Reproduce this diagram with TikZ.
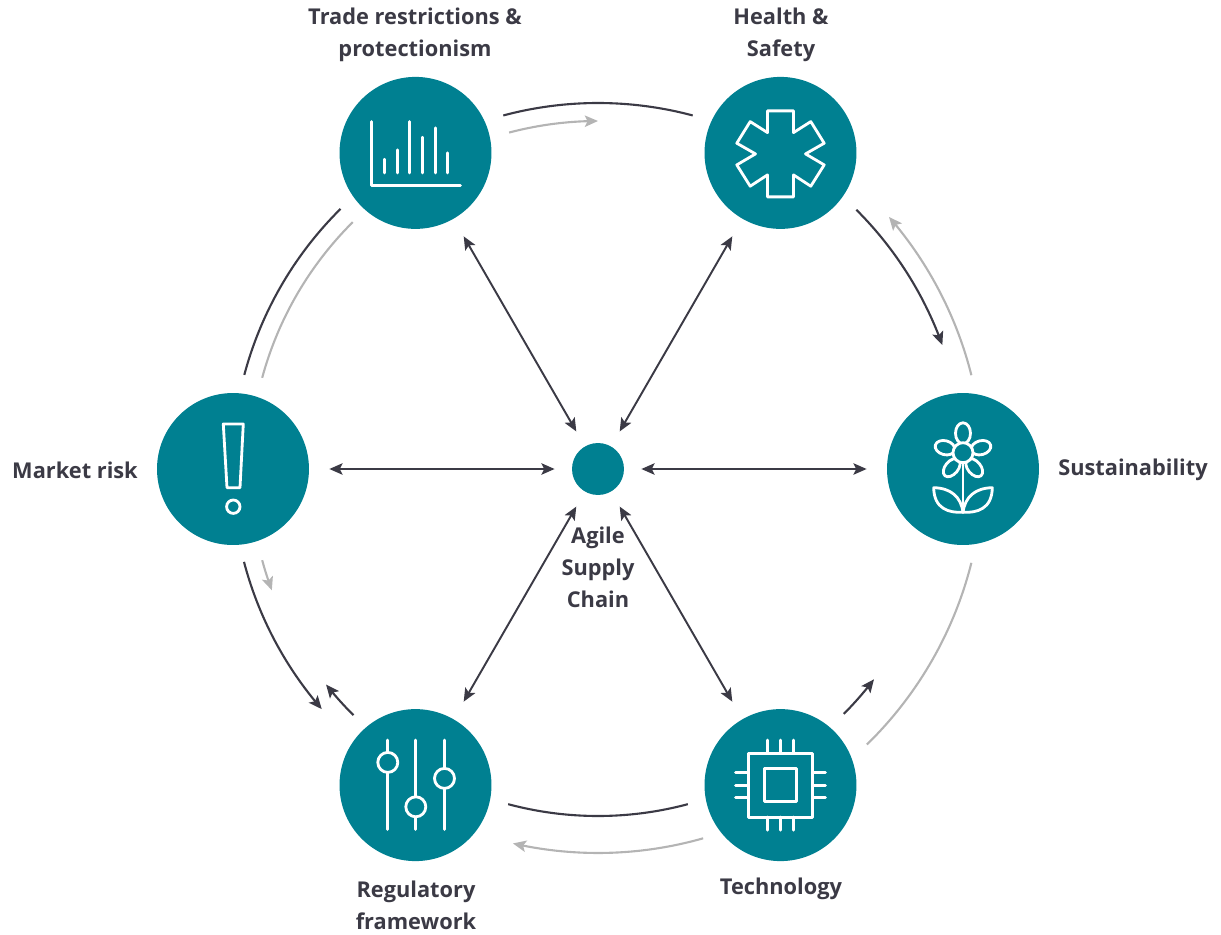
\documentclass[tikz,border=0pt]{standalone}
\usepackage{fontspec}
\setmainfont{Open Sans}
\usetikzlibrary{arrows.meta,bending}
\definecolor{hubteal}{HTML}{008091}
\definecolor{inkdark}{HTML}{3B3A45}
\definecolor{inkgrey}{HTML}{B4B4B4}
\begin{document}
\begin{tikzpicture}[
		x=0.02cm, y=0.02cm,
		risknode/.style={circle, fill=hubteal, inner sep=0pt, minimum size=3.04cm},
		hubnode/.style={circle, fill=hubteal, inner sep=0pt, minimum size=1.04cm},
		caption/.style={text=inkdark, font=\fontsize{12.4}{18.2}\selectfont\bfseries, align=center, inner sep=0pt},
		spoke/.style={draw=inkdark, line width=1.1pt, {Stealth[length=7.5pt,width=6.5pt,inset=1.6pt]}-{Stealth[length=7.5pt,width=6.5pt,inset=1.6pt]}, shorten <=9.7pt, shorten >=11.4pt},
		ringdark/.style={draw=inkdark, line width=1.2pt},
		ringgrey/.style={draw=inkgrey, line width=1.2pt},
		darktip/.style={ringdark, -{Stealth[length=7.5pt,width=6.5pt,inset=1.6pt,flex]}},
		greytip/.style={ringgrey, -{Stealth[length=7.5pt,width=6.5pt,inset=1.6pt,flex]}},
		iconline/.style={draw=white, line width=1.6pt, line join=round, line cap=round}
	]
	\useasboundingbox (-598,-465) rectangle (623,469);

	\node[hubnode] (hub) at (0,0) {};
	\node[risknode] (trade) at (120:365) {};
	\node[risknode] (health) at (60:365) {};
	\node[risknode] (sustain) at (0:365) {};
	\node[risknode] (tech) at (-60:365) {};
	\node[risknode] (reg) at (-120:365) {};
	\node[risknode] (market) at (180:365) {};

	\node[caption] (hubtext) at (0,-98) {Agile\\Supply\\Chain};
	\node[caption] (tradetext) at (-183,434) {Trade restrictions \&\\protectionism};
	\node[caption] (healthtext) at (183,434) {Health \&\\Safety};
	\node[caption] (sustaintext) at (535,-1) {Sustainability};
	\node[caption] (techtext) at (183,-420) {Technology};
	\node[caption] (regtext) at (-182,-436) {Regulatory\\framework};
	\node[caption] (markettext) at (-523,-1) {Market risk};

	\foreach \target in {trade,health,sustain,tech,reg,market}
		\draw[spoke] (hub) -- (\target);

	% ring pieces: style / start angle / end angle / radius
	\foreach \i/\sty/\from/\to/\rad in {
			a/ringdark/105/75/366, b/greytip/104.8/90/348,
			c/darktip/45.1/19.8/366, d/greytip/14.1/40.9/385,
			e/ringgrey/-14.1/-45.7/385, f/darktip/-44.9/-37.3/347,
			g/ringdark/-75/-105/347, h/greytip/-74.1/-102.8/384,
			i/darktip/225.2/218.4/347, j/darktip/194.7/221/366,
			k/greytip/195.2/200.4/348, l/ringdark/165.1/134.7/366, m/ringgrey/164.8/134.8/348} {
		\coordinate (ring\i) at (\from:\rad);
		\draw[\sty] (ring\i) arc[start angle=\from, end angle=\to, radius=\rad];
	}

	% chart
	\begin{scope}[shift={(trade)}]
		\draw[iconline] (-43.7,31.3) -- (-43.7,-32.3) -- (45,-32.3);
		\foreach \xpos/\top in {-31/-6.3, -18.3/3, -5.7/31.3, 7/15.7, 19.7/25, 32/0}
			\draw[iconline] (\xpos,-20) -- (\xpos,\top);
	\end{scope}

	% star
	\begin{scope}[shift={(health)}, yshift=-0.02cm]
		\draw[iconline] (13,43) -- (13,21.3) -- (30.3,32.3) -- (43.7,10.7) -- (25,0) -- (43.7,-11) -- (30.3,-32.3) -- (13,-21) -- (13,-43)
			-- (-13,-43) -- (-13,-21) -- (-30.3,-32.3) -- (-43.7,-11) -- (-25,0) -- (-43.7,10.7) -- (-30.3,32.3) -- (-13,21.3) -- (-13,43) -- cycle;
	\end{scope}

	% flower
	\begin{scope}[shift={(sustain)}]
		\draw[iconline] (0,35.7) ellipse[x radius=7.5, y radius=10.5];
		\draw[iconline, rotate around={-15:(-18,21.3)}] (-18,21.3) ellipse[x radius=10, y radius=7];
		\draw[iconline, rotate around={15:(18,21.3)}] (18,21.3) ellipse[x radius=10, y radius=7];
		\draw[iconline, rotate around={50:(-11.3,1.3)}] (-11.3,1.3) ellipse[x radius=10.5, y radius=6.5];
		\draw[iconline, rotate around={-50:(11.3,1.3)}] (11.3,1.3) ellipse[x radius=10.5, y radius=6.5];
		\draw[iconline, fill=hubteal] (0,16.3) circle[radius=10];
		\draw[iconline] (0,6) -- (0,-43.3);
		\draw[iconline] (-29.3,-18.7) .. controls (-12,-19) and (-2,-28) .. (0,-43.3) .. controls (-14,-44) and (-29,-40) .. cycle;
		\draw[iconline] (29.3,-18.7) .. controls (12,-19) and (2,-28) .. (0,-43.3) .. controls (14,-44) and (29,-40) .. cycle;
	\end{scope}

	% chip
	\begin{scope}[shift={(tech)}]
		\draw[iconline] (-32,-32) rectangle (32,32);
		\draw[iconline] (-16.3,-16.3) rectangle (16.3,16.3);
		\foreach \pin in {-12.7,0,12.7} {
			\draw[iconline] (\pin,32) -- (\pin,45);
			\draw[iconline] (\pin,-32) -- (\pin,-45);
			\draw[iconline] (32,\pin) -- (45,\pin);
			\draw[iconline] (-32,\pin) -- (-45,\pin);
		}
	\end{scope}

	% sliders
	\begin{scope}[shift={(reg)}]
		\foreach \xpos/\knob in {-27.7/22.7, 0.3/-21.7, 29/6.7} {
			\draw[iconline] (\xpos,45) -- (\xpos,-44.3);
			\draw[iconline, fill=hubteal] (\xpos,\knob) circle[radius=10];
		}
	\end{scope}

	% exclamation mark
	\begin{scope}[shift={(market)}]
		\draw[iconline] (-9.7,45) -- (10.3,45) -- (7,-18.7) -- (-6,-18.7) -- cycle;
		\draw[iconline] (0.3,-37.7) circle[radius=6.7];
	\end{scope}
\end{tikzpicture}
\end{document}
